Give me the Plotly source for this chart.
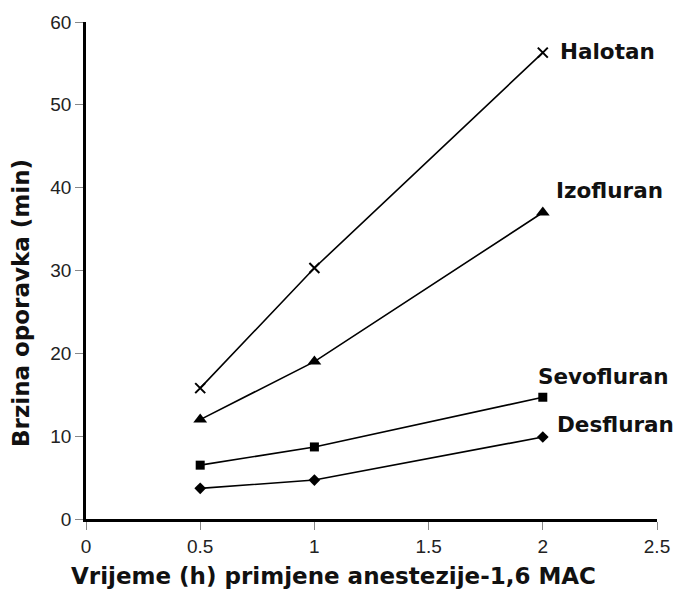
import plotly.graph_objects as go

x_vals = [0.5, 1.0, 2.0]
halotan = [15.8, 30.3, 56.3]
izofluran = [12.0, 19.0, 37.0]
sevofluran = [6.5, 8.7, 14.7]
desfluran = [3.7, 4.7, 9.9]

series = [
    ("Halotan", halotan, "x-thin", 10, 2.068, 56.4),
    ("Izofluran", izofluran, "triangle-up", 12, 2.048, 39.7),
    ("Sevofluran", sevofluran, "square", 9, 1.97, 17.2),
    ("Desfluran", desfluran, "diamond", 9, 2.055, 11.35),
]

LABEL = dict(family="DejaVu Sans", size=21.5, color="#111")
TITLE = dict(family="DejaVu Sans", size=23, color="#111")

fig = go.Figure()
for name, vals, sym, size, lx, ly in series:
    marker = dict(symbol=sym, size=size, color="black")
    if sym == "x-thin":
        marker["line"] = dict(width=2, color="black")
    fig.add_trace(go.Scatter(x=x_vals, y=vals, mode="lines+markers", name=name,
                             line=dict(color="black", width=1.6), marker=marker,
                             showlegend=False))
    fig.add_annotation(x=lx, y=ly, xref="x", yref="y", text="<b>%s</b>" % name,
                       showarrow=False, xanchor="left", yanchor="middle",
                       font=LABEL)

fig.add_annotation(x=0.4326, y=-0.1147, xref="paper", yref="paper",
                   text="<b>Vrijeme (h) primjene anestezije-1,6 MAC</b>",
                   showarrow=False, xanchor="center", yanchor="middle",
                   font=TITLE)
fig.add_annotation(x=-0.1135, y=0.435, xref="paper", yref="paper",
                   text="<b>Brzina oporavka (min)</b>", textangle=-90,
                   showarrow=False, xanchor="center", yanchor="middle",
                   font=TITLE)

fig.update_layout(
    width=676, height=592,
    margin=dict(l=86, r=19, t=22, b=73, autoexpand=False),
    plot_bgcolor="white", paper_bgcolor="white",
    font=dict(family="Liberation Sans", size=19, color="#222"),
)
fig.update_xaxes(range=[0, 2.5], tickvals=[0, 0.5, 1, 1.5, 2, 2.5],
                 ticktext=["0", "0.5", "1", "1.5", "2", "2.5"],
                 showline=True, linecolor="black", linewidth=2.5,
                 ticks="outside", ticklen=8, tickwidth=1, tickcolor="#888",
                 showgrid=False, zeroline=False, automargin=False)
fig.update_yaxes(range=[0, 60], tickvals=[0, 10, 20, 30, 40, 50, 60],
                 showline=True, linecolor="black", linewidth=2.5,
                 ticks="outside", ticklen=8, tickwidth=1, tickcolor="#888",
                 showgrid=False, zeroline=False, automargin=False)

fig.write_html(
    "out.html",
    config={"displayModeBar": False},
    post_script="document.body.style.margin='0';document.body.style.overflow='hidden';",
)
